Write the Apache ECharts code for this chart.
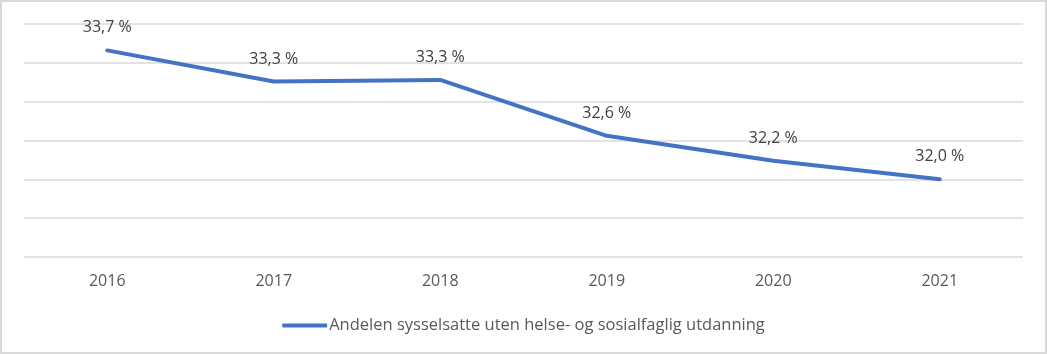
<!DOCTYPE html>
<html>
<head>
<meta charset="utf-8">
<script src="https://cdn.jsdelivr.net/npm/echarts@6/dist/echarts.min.js"></script>
<style>
html,body{margin:0;padding:0;background:#fff;}
#wrap{width:1047px;height:354px;box-sizing:border-box;border:2px solid #d9d9d9;position:relative;}
#chart{position:absolute;left:-2px;top:-2px;width:1047px;height:354px;}
</style>
</head>
<body>
<div id="wrap"><div id="chart"></div></div>
<script>
const categories = ["2016","2017","2018","2019","2020","2021"];
const seriesName = "Andelen sysselsatte uten helse- og sosialfaglig utdanning";
const values = [33.66, 33.26, 33.28, 32.56, 32.24, 32.0];
const yMin = 31, yMax = 34, yInterval = 0.5;

const chart = echarts.init(document.getElementById('chart'), null, {renderer:'canvas'});
const font = '"Open Sans", "Noto Sans", sans-serif';
chart.setOption({
  animation:false,
  grid:{left:24,right:24,top:24,bottom:97,containLabel:false},
  legend:{
    data:[{name:seriesName, icon:'roundRect', itemStyle:{color:'#4472C4',opacity:1}}],
    top:312,
    left:'center',
    itemWidth:45,
    itemHeight:4,
    itemGap:0,
    textStyle:{color:'#595959',fontSize:16.5,fontFamily:font,padding:[0,0,0,-3]},
  },
  xAxis:{
    type:'category',
    data:categories,
    boundaryGap:true,
    axisLine:{show:false},
    axisTick:{show:false},
    axisLabel:{color:'#595959',fontSize:16,fontFamily:font,margin:16}
  },
  yAxis:{
    type:'value',
    min:yMin,max:yMax,interval:yInterval,
    axisLabel:{show:false},
    axisLine:{show:false},
    axisTick:{show:false},
    splitLine:{lineStyle:{color:'#d9d9d9',width:1.5}}
  },
  series:[{
    name:seriesName,
    type:'line',
    data:values,
    symbol:'circle',
    symbolSize:1,
    showSymbol:true,
    itemStyle:{color:'rgba(68,114,196,0)'},
    lineStyle:{color:'#4472C4',width:4,cap:'round'},
    label:{
      show:true,
      position:'top',
      distance:14,
      color:'#404040',
      fontSize:16,
      fontFamily:font,
      formatter:p=>p.value.toFixed(1).replace('.',',')+' %'
    }
  }]
});
</script>
</body>
</html>
